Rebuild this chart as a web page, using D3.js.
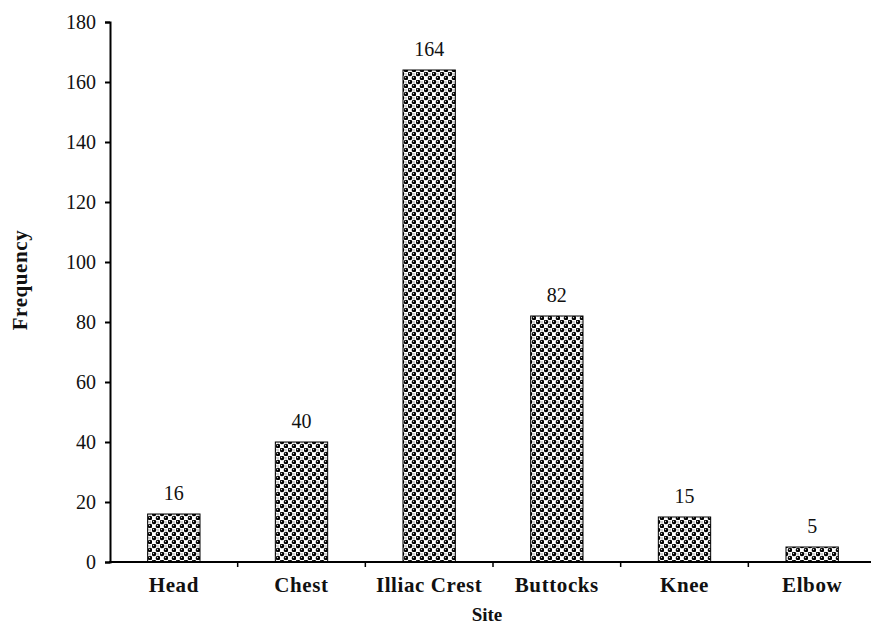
<!DOCTYPE html>
<html><head><meta charset="utf-8">
<script src="https://cdn.jsdelivr.net/npm/d3@7"></script>
<style>body{margin:0;background:#fff}svg{display:block}text{font-family:"Liberation Serif","Times New Roman",serif}</style>
</head><body><svg id="c" width="871" height="625"></svg>
<script>
const categories = ["Head","Chest","Illiac Crest","Buttocks","Knee","Elbow"];
const values = [16,40,164,82,15,5];
const yTicks = [0,20,40,60,80,100,120,140,160,180];

const svg = d3.select("#c");
const defs = svg.append("defs");
const pat = defs.append("pattern").attr("id","dots").attr("patternUnits","userSpaceOnUse")
  .attr("width",8).attr("height",8);
pat.append("rect").attr("width",8).attr("height",8).attr("fill","#fff");
pat.append("circle").attr("cx",2).attr("cy",2).attr("r",2.3).attr("fill","#000");
pat.append("circle").attr("cx",6).attr("cy",6).attr("r",2.3).attr("fill","#000");
pat.append("rect").attr("x",5.5).attr("y",1.5).attr("width",1).attr("height",1).attr("fill","#444");
pat.append("circle").attr("cx",1.5).attr("cy",1.5).attr("r",0.7).attr("fill","#ccc");
pat.append("circle").attr("cx",5.5).attr("cy",5.5).attr("r",0.7).attr("fill","#ccc");

const x0 = 110, x1 = 876, yTop = 22, yBot = 562;
const x = d3.scaleBand().domain(categories).range([x0,x1]).paddingInner(0.59).paddingOuter(0.295);
const y = d3.scaleLinear().domain([0,180]).range([yBot,yTop]);

svg.selectAll("rect.bar").data(values).enter().append("rect")
  .attr("class","bar")
  .attr("x",(d,i)=>x(categories[i]))
  .attr("width",x.bandwidth())
  .attr("y",d=>y(d))
  .attr("height",d=>yBot-y(d))
  .attr("fill","url(#dots)")
  .attr("stroke","#000").attr("stroke-width",1);

svg.selectAll("text.val").data(values).enter().append("text")
  .attr("class","val")
  .attr("x",(d,i)=>x(categories[i])+x.bandwidth()/2)
  .attr("y",d=>y(d)-14)
  .attr("text-anchor","middle").attr("font-size",20).attr("fill","#111")
  .text(d=>d);

const ya = svg.append("g").attr("transform",`translate(${x0},0)`)
  .call(d3.axisLeft(y).tickValues(yTicks).tickSize(5).tickPadding(9).tickSizeOuter(5));
ya.select(".domain").attr("stroke-width",2);
ya.selectAll(".tick line").attr("stroke-width",2);
ya.selectAll("text").attr("font-size",20).attr("fill","#111").style("font-family",'"Liberation Serif",serif');

svg.append("line").attr("x1",x0-1).attr("x2",871).attr("y1",yBot).attr("y2",yBot)
  .attr("stroke","#000").attr("stroke-width",2);
const step = x.step();
const bounds = d3.range(1,categories.length).map(i=>x0+i*step);
svg.selectAll("line.xt").data(bounds).enter().append("line")
  .attr("x1",d=>d).attr("x2",d=>d).attr("y1",yBot).attr("y2",yBot+5)
  .attr("stroke","#000").attr("stroke-width",1.5);

svg.selectAll("text.cat").data(categories).enter().append("text")
  .attr("x",d=>x(d)+x.bandwidth()/2).attr("y",592)
  .attr("text-anchor","middle").attr("font-size",21).attr("font-weight","bold").attr("fill","#111")
  .attr("letter-spacing",0.6)
  .text(d=>d);

svg.append("text").attr("x",487).attr("y",621).attr("text-anchor","middle")
  .attr("font-size",19).attr("font-weight","bold").attr("fill","#111").text("Site");
svg.append("text").attr("transform","translate(27,280) rotate(-90)").attr("text-anchor","middle")
  .attr("font-size",21).attr("font-weight","bold").attr("fill","#111").attr("letter-spacing",0.6).text("Frequency");
</script></body></html>
